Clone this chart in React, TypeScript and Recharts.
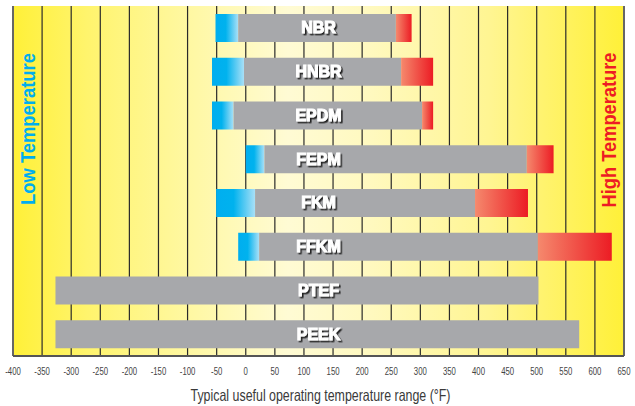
import {
  Bar,
  BarChart,
  CartesianGrid,
  Customized,
  ReferenceDot,
  ReferenceLine,
  XAxis,
  YAxis,
} from "recharts";

// Typical useful operating temperature ranges (°F) per seal material.
// cold = cryogenic extension (blue), core = normal range (grey), hot = short-term high (red)
const MATERIALS = ["NBR", "HNBR", "EPDM", "FEPM", "FKM", "FFKM", "PTEF", "PEEK"];
const COLD_LIMIT = [-52, -58, -58, 0, -51, -13, null, null];
const CORE_LOW = [-13, -3, -21, 32, 16, 23, -327, -327];
const CORE_HIGH = [258, 267, 303, 483, 394, 502, 503, 573];
const HOT_LIMIT = [285, 322, 322, 529, 485, 629, null, null];

const X_TICKS = [
  -400, -350, -300, -250, -200, -150, -100, -50, 0, 50, 100,
  150, 200, 250, 300, 350, 400, 450, 500, 550, 600, 650,
];
const LABEL_AT = 125; // names sit in the middle of the scale

const FONT = "'Liberation Sans', Arial, Helvetica, sans-serif";

interface Row {
  name: string;
  cold: [number, number] | null;
  core: [number, number];
  hot: [number, number] | null;
}

const rows: Row[] = MATERIALS.map((name, i) => {
  const c = COLD_LIMIT[i];
  const h = HOT_LIMIT[i];
  return {
    name,
    cold: c == null ? null : [c, CORE_LOW[i]],
    core: [CORE_LOW[i], CORE_HIGH[i]],
    hot: h == null ? null : [CORE_HIGH[i], h],
  };
});

function AxisTick(props: any) {
  const { x, y, payload } = props;
  return (
    <g transform={`translate(${x},${y})`}>
      <text
        transform="scale(0.74,1)"
        y={19}
        textAnchor="middle"
        fontSize={10.5}
        fontFamily={FONT}
        fill="#444"
      >
        {payload.value}
      </text>
    </g>
  );
}

function AxisTitle(props: any) {
  const vb = props.viewBox || {};
  const cx = vb.x + vb.width / 2 + 2;
  return (
    <text
      x={cx}
      y={vb.y + 44.5}
      textAnchor="middle"
      fontSize={16.5}
      fontFamily={FONT}
      fill="#3a3a3a"
      textLength={260}
      lengthAdjust="spacingAndGlyphs"
    >
      Typical useful operating temperature range (°F)
    </text>
  );
}

function MaterialLabel(props: any) {
  const vb = props.viewBox || {};
  const x = vb.x + (vb.width || 0) / 2;
  const y = vb.y + (vb.height || 0) / 2 + 5.5;
  return (
    <text
      x={x}
      y={y}
      textAnchor="middle"
      fontSize={16}
      fontWeight={700}
      fontFamily={FONT}
      fill="#ffffff"
      stroke="#ffffff"
      strokeWidth={1}
      filter="url(#labelShadow)"
    >
      {props.value}
    </text>
  );
}

function SideNotes() {
  return (
    <g fontFamily={FONT} fontSize={20} fontWeight={700}>
      <text
        transform="translate(35,129) rotate(-90)"
        textAnchor="middle"
        fill="#00aeef"
        textLength={152}
        lengthAdjust="spacingAndGlyphs"
      >
        Low Temperature
      </text>
      <text
        transform="translate(616,130) rotate(-90)"
        textAnchor="middle"
        fill="#ed1c24"
        textLength={155}
        lengthAdjust="spacingAndGlyphs"
      >
        High Temperature
      </text>
    </g>
  );
}

export default function App() {
  return (
    <div style={{ position: "absolute", left: 0, top: 0, width: 635, height: 406, background: "#fff" }}>
      <BarChart
        layout="vertical"
        width={635}
        height={406}
        data={rows}
        margin={{ top: 6, right: 11, bottom: 0, left: 13 }}
        barGap={-28}
        barCategoryGap={0}
      >
        <defs>
          <linearGradient id="bgYellow" x1="0" y1="0" x2="1" y2="0">
            <stop offset="0%" stopColor="#fff038" />
            <stop offset="12%" stopColor="#fff46c" />
            <stop offset="30%" stopColor="#fff8a6" />
            <stop offset="45%" stopColor="#fffbd4" />
            <stop offset="58%" stopColor="#fff9c0" />
            <stop offset="78%" stopColor="#fff592" />
            <stop offset="100%" stopColor="#fff038" />
          </linearGradient>
          <linearGradient id="coldFade" x1="0" y1="0" x2="1" y2="0">
            <stop offset="0%" stopColor="#00aeef" />
            <stop offset="45%" stopColor="#00b2ee" />
            <stop offset="100%" stopColor="#a9e0f7" />
          </linearGradient>
          <linearGradient id="hotFade" x1="0" y1="0" x2="1" y2="0">
            <stop offset="0%" stopColor="#f5896d" />
            <stop offset="100%" stopColor="#ec1c24" />
          </linearGradient>
          <filter id="labelShadow" x="-20%" y="-30%" width="140%" height="160%">
            <feDropShadow dx={1.6} dy={1.6} stdDeviation={0.3} floodColor="#222" floodOpacity={1} />
          </filter>
        </defs>
        <CartesianGrid
          horizontal={false}
          vertical
          stroke="#2a2a2a"
          strokeWidth={1.2}
          fill="url(#bgYellow)"
          fillOpacity={1}
        />
        <XAxis
          type="number"
          domain={[-400, 650]}
          ticks={X_TICKS}
          interval={0}
          height={50}
          tickSize={0}
          tickMargin={0}
          tickLine={false}
          axisLine={{ stroke: "#555", strokeWidth: 2 }}
          tick={<AxisTick />}
          label={{ content: <AxisTitle /> } as any}
        />
        <XAxis
          xAxisId="top"
          orientation="top"
          type="number"
          domain={[-400, 650]}
          height={0}
          tick={false}
          tickLine={false}
          axisLine={{ stroke: "#666", strokeWidth: 2 }}
        />
        <YAxis type="category" dataKey="name" hide width={0} />
        <ReferenceLine x={-400} stroke="#666" strokeWidth={2} />
        <ReferenceLine x={650} stroke="#666" strokeWidth={2} />
        <Bar dataKey="cold" barSize={28} fill="url(#coldFade)" isAnimationActive={false} />
        <Bar dataKey="core" barSize={28} fill="#a7a8ab" isAnimationActive={false} />
        <Bar dataKey="hot" barSize={28} fill="url(#hotFade)" isAnimationActive={false} />
        {MATERIALS.map((m) => (
          <ReferenceDot
            key={m}
            x={LABEL_AT}
            y={m}
            r={0}
            fill="none"
            stroke="none"
            label={<MaterialLabel value={m} />}
          />
        ))}
        <Customized component={SideNotes} />
      </BarChart>
    </div>
  );
}
